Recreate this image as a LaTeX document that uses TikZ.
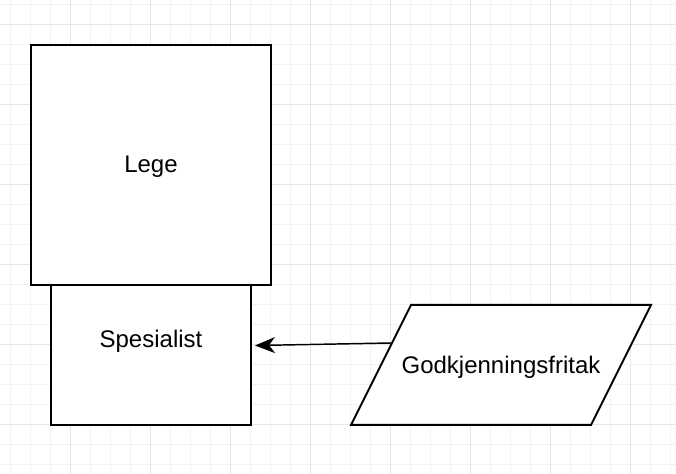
\documentclass[tikz,border=0pt]{standalone}
\usepackage{fontspec}
\setmainfont{Liberation Sans}
\usetikzlibrary{arrows.meta}
\definecolor{gridminor}{HTML}{F3F3F3}
\definecolor{gridmajor}{HTML}{E6E6E6}
\tikzset{
  box/.style={draw=black, line width=1.5pt, fill=white},
  lbl/.style={font=\fontsize{18}{21}\selectfont, inner sep=0pt},
  conn/.style={draw=black, line width=1.1pt, -{Stealth[length=15pt,width=12pt,inset=4.5pt]}}
}
\begin{document}
\begin{tikzpicture}[x=0.75pt,y=-0.75pt]
\useasboundingbox (0,0) rectangle (676,474);
\fill[white] (0,0) rectangle (676,474);
% grid
\foreach \x in {10,30,...,670} \draw[gridminor, line width=0.75pt] (\x,0) -- (\x,474);
\foreach \y in {5,25,...,465} \draw[gridminor, line width=0.75pt] (0,\y) -- (676,\y);
\foreach \x in {70,150,...,670} \draw[gridmajor, line width=0.75pt] (\x,0) -- (\x,474);
\foreach \y in {25,105,...,465} \draw[gridmajor, line width=0.75pt] (0,\y) -- (676,\y);
% shapes
\path[box] (51,285) rectangle (251,425);
\path[box] (31,45) rectangle (271,285);
\node[lbl] (lege) at (151,167) {Lege};
\node[lbl] (spes) at (151,341) {Spesialist};
\path[box] (411,305) -- (651,305) -- (591,425) -- (351,425) -- cycle;
\node[lbl] (godk) at (501,367) {Godkjenningsfritak};
\coordinate (src) at (391,343);
\coordinate (dst) at (255,345.5);
\draw[conn] (src) -- (dst);
\end{tikzpicture}
\end{document}
